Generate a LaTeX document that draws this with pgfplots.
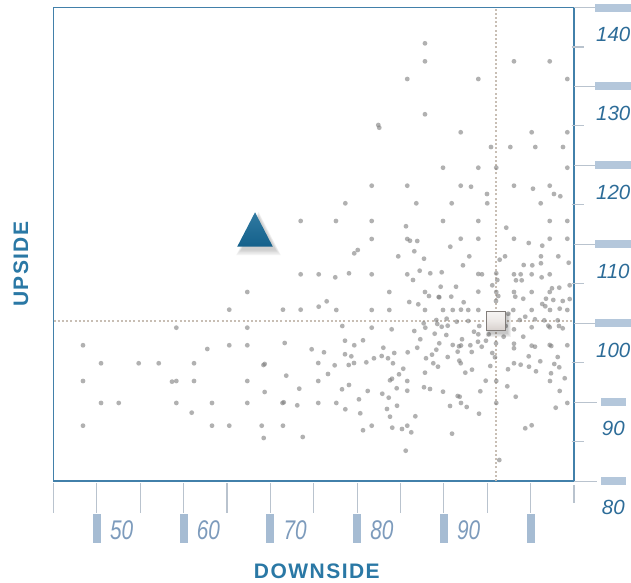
\documentclass[border=0pt]{standalone}
\usepackage{fontspec}
\setmainfont{Liberation Sans}
\newfontfamily\xlabfont{Liberation Sans}[FakeStretch=0.77]
\newfontfamily\titlefont{Liberation Sans}[LetterSpace=7]
\usepackage{pgfplots}
\pgfplotsset{compat=1.18}

\definecolor{framecol}{RGB}{66,128,170}
\definecolor{titlecol}{RGB}{42,120,165}
\definecolor{ylabcol}{RGB}{45,108,152}
\definecolor{xlabcol}{RGB}{125,155,188}
\definecolor{barcol}{RGB}{166,188,211}
\definecolor{ybarcol}{RGB}{180,199,219}
\definecolor{thincol}{RGB}{185,195,206}
\definecolor{dotcol}{RGB}{125,125,125}
\definecolor{refcol}{RGB}{200,190,180}
\definecolor{tritop}{RGB}{62,134,172}
\definecolor{tribot}{RGB}{6,84,128}
\definecolor{sqtop}{RGB}{255,255,255}
\definecolor{sqmid}{RGB}{236,232,230}
\definecolor{sqbot}{RGB}{196,186,182}
\definecolor{sqedge}{RGB}{130,125,122}

\pgfdeclareverticalshading{trishade}{100bp}{color(0bp)=(tribot); color(100bp)=(tritop)}
\pgfdeclareverticalshading{sqshade}{100bp}{color(0bp)=(sqbot); color(50bp)=(sqmid); color(100bp)=(sqtop)}

\newcommand\tripath[3]{%
  \pgfpathmoveto{\pgfpoint{#1}{17.2pt+#3+#2}}%
  \pgfpathlineto{\pgfpoint{17.8pt+#3+#1}{-17.2pt-#3+#2}}%
  \pgfpathlineto{\pgfpoint{-17.8pt-#3+#1}{-17.2pt-#3+#2}}%
  \pgfpathclose}
\newcommand\sqpath[3]{%
  \pgfpathrectangle{\pgfpoint{-9.2pt-#3+#1}{-9.2pt-#3+#2}}{\pgfpoint{18.4pt+2*#3}{18.4pt+2*#3}}}

\pgfdeclareplotmark{dot}{%
  \pgfpathcircle{\pgfpointorigin}{\pgfplotmarksize}%
  \pgfusepathqfill}

\pgfdeclareplotmark{uptri}{%
  \begin{pgfscope}%
    \pgfsetfillcolor{black}%
    \pgfsetfillopacity{0.05}%
    \tripath{3.5pt}{-4pt}{4.5pt}\pgfusepath{fill}%
    \tripath{3.5pt}{-4pt}{3pt}\pgfusepath{fill}%
    \tripath{3.5pt}{-4pt}{1.5pt}\pgfusepath{fill}%
    \tripath{3.5pt}{-4pt}{0pt}\pgfusepath{fill}%
  \end{pgfscope}%
  \tripath{0pt}{0pt}{0pt}%
  \pgfshadepath{trishade}{0}%
  \pgfusepath{}%
}
\pgfdeclareplotmark{shsq}{%
  \begin{pgfscope}%
    \pgfsetfillcolor{black}%
    \pgfsetfillopacity{0.06}%
    \sqpath{2.5pt}{-3.5pt}{3pt}\pgfusepath{fill}%
    \sqpath{2.5pt}{-3.5pt}{2pt}\pgfusepath{fill}%
    \sqpath{2.5pt}{-3.5pt}{1pt}\pgfusepath{fill}%
    \sqpath{2.5pt}{-3.5pt}{0pt}\pgfusepath{fill}%
  \end{pgfscope}%
  \sqpath{0pt}{0pt}{0pt}%
  \pgfshadepath{sqshade}{0}%
  \pgfusepath{}%
  \begin{pgfscope}%
    \pgfsetstrokecolor{sqedge}%
    \pgfsetlinewidth{0.8pt}%
    \sqpath{0pt}{0pt}{0pt}\pgfusepath{stroke}%
  \end{pgfscope}%
}

\begin{document}
\begin{tikzpicture}
\begin{axis}[
  at={(53.5pt,101pt)}, anchor=south west,
  width=520.5pt, height=473.5pt, scale only axis,
  xmin=45, xmax=105, ymin=80, ymax=140,
  clip=false,
  axis line style={framecol, line width=1.3pt},
  tick style={draw=none}, major tick length=0pt, minor tick length=0pt,
  xtick={50,60,70,80,90}, xticklabels={50,60,70,80,90},
  xticklabel style={font=\xlabfont\itshape\fontsize{27}{27}\selectfont, text=xlabcol, anchor=west, inner sep=0pt, xshift=13pt, yshift=-49.3pt},
  ytick={80,90,100,110,120,130,140},
  yticklabels={80,90,100,110,120,130,140},
  yticklabel pos=right,
  yticklabel style={font=\itshape\fontsize{20.5}{20.5}\selectfont, text=ylabcol, anchor=center, inner sep=0pt, xshift=39.3pt, yshift=-26.8pt},
  xlabel={\titlefont\bfseries DOWNSIDE},
  xlabel style={at={(axis description cs:0.506,-0.1915)}, anchor=center, text=titlecol, font=\fontsize{21}{21}\selectfont, inner sep=0pt},
  ylabel={\titlefont\bfseries UPSIDE},
  ylabel style={at={(axis description cs:-0.0628,0.4579)}, anchor=center, text=titlecol, font=\fontsize{21}{21}\selectfont, inner sep=0pt},
]
% reference lines
\addplot[refcol, line width=1.4pt, dash pattern=on 2pt off 2.2pt] coordinates {(45,100.3) (105,100.3)};
\addplot[refcol, line width=1.4pt, dash pattern=on 2pt off 2.2pt] coordinates {(96,80) (96,140)};
% scatter
\addplot[only marks, mark=dot, mark size=2.4pt, mark options={fill=dotcol, fill opacity=0.6}] coordinates {
(73.49,112.95) (73.49,106.19) (67.34,103.95) (65.26,101.71) (71.45,101.71) (73.49,101.71) (59.16,99.43) (67.34,99.43) (48.40,97.20) (62.73,96.73) (65.26,97.20) (67.34,97.20) (71.65,97.49) (50.48,94.92) (54.82,94.92) (57.13,94.92) (61.20,94.92) (69.34,94.83) (69.21,94.70) (48.40,92.67) (58.66,92.59) (59.16,92.67) (61.20,92.67) (67.34,92.67) (71.83,93.35) (69.34,91.28) (73.33,91.70) (50.48,89.89) (52.52,89.89) (59.16,89.89) (60.93,88.66) (63.27,89.89) (67.34,89.89) (71.54,89.97) (71.40,89.89) (73.10,89.59) (48.40,87.01) (63.27,87.01) (65.26,87.01) (69.00,87.01) (71.45,87.01) (69.23,85.45) (73.73,85.58)
(87.82,135.46) (87.82,133.18) (98.08,133.18) (102.20,133.18) (85.78,130.94) (93.97,130.94) (104.23,130.94) (87.82,126.47) (82.44,125.11) (82.55,124.77) (91.94,124.19) (100.12,124.19) (104.23,124.19) (95.43,122.32) (97.66,122.32) (100.54,122.32) (103.73,122.32) (89.90,119.70) (93.97,119.70) (96.04,119.70) (104.23,119.70) (81.68,117.42) (85.78,117.42) (91.94,117.42) (93.13,117.29) (98.08,117.42) (100.27,117.04) (102.20,117.42) (94.97,116.37) (102.69,116.37) (103.42,116.08) (78.64,115.19) (86.82,115.19) (90.90,115.19) (95.00,115.19) (101.16,115.19) (77.56,112.95) (81.68,112.95) (85.63,112.28) (89.90,112.95) (93.97,112.95) (97.19,112.10) (102.20,112.95) (104.23,112.95)
(81.68,110.67) (85.78,110.67) (86.09,110.45) (86.93,110.41) (79.67,108.85) (80.07,109.27) (84.74,108.47) (86.59,109.11) (87.71,108.17) (75.57,106.19) (77.48,105.81) (79.06,106.32) (81.68,106.19) (85.78,106.19) (87.21,106.65) (86.44,105.47) (88.43,106.32) (83.71,103.95) (87.82,103.95) (88.28,103.44) (89.40,103.32) (76.49,102.77) (75.57,102.09) (77.60,101.67) (81.68,101.67) (83.71,101.67) (86.01,102.68) (87.05,102.39) (87.82,101.67) (78.29,99.64) (81.68,99.43) (83.98,99.22) (86.59,99.01) (87.67,99.98) (87.86,99.43) (89.24,99.90) (88.94,98.67) (87.28,97.96) (78.60,97.78) (79.67,97.20) (80.68,97.83) (83.02,96.89) (86.93,96.89) (74.76,96.69)
(91.94,110.70) (93.97,110.70) (90.74,109.69) (98.08,110.70) (99.78,110.16) (102.20,110.70) (104.23,110.70) (101.34,109.82) (92.93,108.47) (97.05,108.47) (96.43,108.04) (101.19,108.47) (103.19,108.47) (92.20,107.33) (99.20,107.37) (100.19,107.33) (101.19,107.59) (104.39,107.66) (89.75,106.45) (93.97,106.23) (94.39,106.19) (96.04,106.32) (98.08,106.19) (98.85,106.19) (100.12,106.19) (102.20,106.19) (96.16,105.47) (98.31,105.43) (98.97,105.43) (101.27,105.81) (89.63,104.62) (91.40,104.62) (95.58,104.80) (93.97,103.99) (96.04,103.95) (96.27,103.44) (98.08,103.95) (98.23,103.36) (100.12,103.95) (102.20,103.95) (102.46,104.42) (103.30,104.50) (104.50,104.80) (89.47,103.28) (90.85,103.36) (92.28,102.65) (99.15,103.10) (101.77,103.10) (102.61,102.94) (103.70,102.81) (104.50,103.06) (96.01,102.81) (89.90,101.67) (91.02,101.67) (91.97,101.71) (92.81,101.67) (93.97,101.67) (98.00,101.67) (100.12,101.67) (101.34,102.43) (101.69,102.14) (102.23,101.67) (103.35,101.84) (104.23,101.67) (97.42,101.20) (99.38,100.82) (90.32,100.57) (89.13,100.40) (91.48,100.19) (92.81,100.28) (98.74,100.40) (100.50,100.49) (101.57,100.36) (103.12,100.36) (89.75,99.55) (90.44,99.68) (94.08,99.64) (97.12,99.64) (98.08,99.22) (100.12,99.48) (102.20,99.48) (102.04,99.68) (103.27,99.64) (103.70,99.35) (93.47,98.92) (93.97,98.59) (95.17,98.59) (96.89,98.29) (99.15,98.29) (90.28,98.50) (92.09,97.96) (94.85,97.78) (96.01,97.45) (98.08,97.40) (102.20,97.24) (102.38,97.11) (104.23,97.20) (91.02,97.24) (89.47,97.45) (91.74,97.07) (93.05,97.20) (94.36,97.02) (100.50,97.02)
(76.18,96.31) (78.60,96.06) (79.33,95.80) (82.83,95.84) (83.56,95.55) (84.28,96.22) (85.83,96.31) (81.94,95.55) (81.06,95.04) (79.64,94.95) (79.03,94.70) (77.41,94.66) (75.52,94.95) (84.13,94.92) (87.94,95.55) (88.63,96.01) (89.13,96.64) (88.78,94.92) (89.32,94.49) (76.64,93.56) (85.32,94.23) (84.83,93.52) (87.82,93.73) (75.52,92.67) (83.79,92.76) (84.02,92.96) (85.78,92.67) (79.06,92.17) (78.26,91.62) (81.22,91.41) (84.56,91.75) (85.78,91.44) (87.71,91.88) (88.40,91.66) (82.90,91.06) (83.64,90.56) (80.21,90.35) (75.52,89.89) (77.60,89.89) (78.64,89.09) (80.36,88.58) (83.44,89.13) (84.60,89.54) (83.79,88.15) (86.71,88.20) (81.68,87.01) (80.68,86.43) (84.05,86.76) (85.17,86.59) (85.78,87.01) (86.24,86.17) (85.60,83.84)
(91.97,97.17) (93.93,97.65) (98.08,96.82) (100.12,97.15) (91.59,96.39) (90.44,95.71) (93.21,96.35) (95.58,96.22) (95.89,95.68) (99.78,95.80) (103.12,95.71) (91.78,95.25) (91.94,94.92) (93.24,94.11) (92.47,93.73) (95.35,94.57) (97.39,94.16) (98.08,94.92) (98.85,94.74) (99.81,94.49) (100.62,93.90) (101.11,95.17) (102.73,94.83) (103.30,94.41) (102.35,93.65) (94.82,92.71) (96.04,92.67) (102.23,92.67) (103.93,93.02) (97.31,92.00) (89.90,91.32) (91.59,90.77) (91.82,90.68) (94.20,91.37) (103.35,91.41) (98.28,90.68) (90.71,89.51) (91.97,89.89) (92.63,89.38) (96.04,89.89) (94.05,88.53) (102.89,89.29) (104.23,89.89) (99.38,86.68) (100.12,87.06) (90.94,86.00) (96.39,82.66)
};
% benchmark square and fund triangle
\addplot[only marks, mark=shsq] coordinates {(96.0,100.3)};
\addplot[only marks, mark=uptri] coordinates {(68.23,111.87)};
% axis decorations
\pgfplotsinvokeforeach{45,50,...,100}{\draw[thincol, line width=1.2pt] (axis cs:#1,80) ++(0pt,-2.3pt) -- ++(0pt,-30pt);}
\draw[thincol, line width=1.2pt] (axis cs:105,80) ++(0pt,-4pt) -- ++(0pt,-18pt);
\pgfplotsinvokeforeach{50,60,...,100}{\draw[barcol, line width=8pt] (axis cs:#1,80) ++(0pt,-33pt) -- ++(0pt,-28.7pt);}
\pgfplotsinvokeforeach{80,90,...,140}{\draw[thincol, line width=1pt] (axis cs:105,#1) -- ++(23pt,0pt);}
\pgfplotsinvokeforeach{100,110,...,140}{\draw[ybarcol, line width=8pt] (axis cs:105,#1) ++(21pt,0pt) -- ++(36pt,0pt);}
\pgfplotsinvokeforeach{80,90}{\draw[ybarcol, line width=8pt] (axis cs:105,#1) ++(27pt,0pt) -- ++(25pt,0pt);}
\pgfplotsinvokeforeach{85,95,...,135}{\draw[thincol, line width=1.2pt] (axis cs:105,#1) ++(-2.3pt,0pt) -- ++(12.6pt,0pt);}
\end{axis}
\pgfresetboundingbox
\path[use as bounding box] (0,0) rectangle (631pt,582pt);
\end{tikzpicture}
\end{document}
